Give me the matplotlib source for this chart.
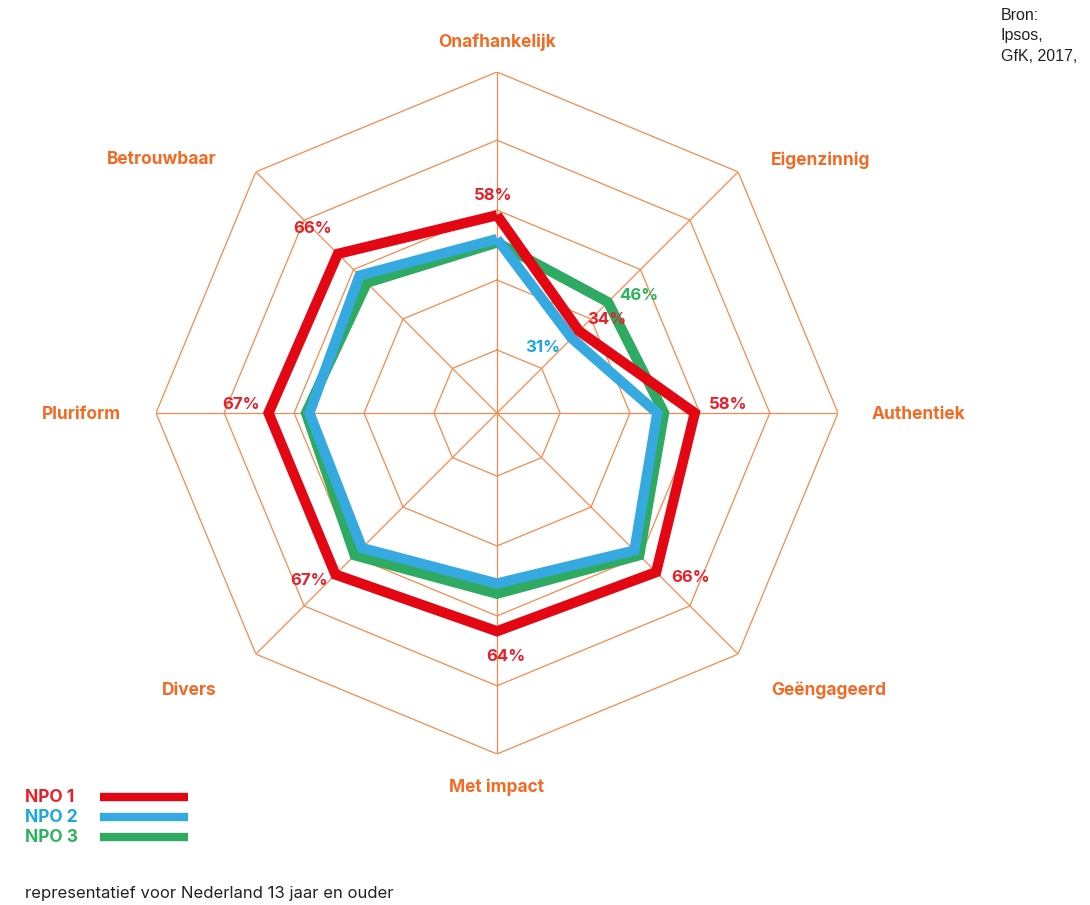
import numpy as np
import matplotlib
matplotlib.use('Agg')
import matplotlib.pyplot as plt
from matplotlib.lines import Line2D

plt.rcParams['font.family'] = ['Inter', 'DejaVu Sans']

categories = ['Onafhankelijk', 'Eigenzinnig', 'Authentiek', 'Geëngageerd',
              'Met impact', 'Divers', 'Pluriform', 'Betrouwbaar']
npo1 = [58, 34, 58, 66, 64, 67, 67, 66]
npo2 = [51, 31, 47, 57, 50, 56, 55, 57]
npo3 = [50, 46, 49, 59, 53, 59, 56, 54]
series_names = ['NPO 1', 'NPO 2', 'NPO 3']
ring_levels = [18.5, 39, 59.5, 80, 100]

# labels shown on the chart: (series index, category index)
shown_labels = [(0, 0), (0, 1), (0, 2), (0, 3), (0, 4), (0, 5), (0, 6), (0, 7),
                (1, 1), (2, 1)]

W, H = 1090, 905
RED = '#e30613'
BLUE = '#36a9e0'
GREEN = '#2eaa62'
ORANGE = '#f26a24'
GRID = '#f58a4e'
LABEL_COLORS = ['#e8202a', '#19a8e0', '#2db35d']


def fx(px):
    return px / W


def fy(py):
    return 1 - py / H


fig = plt.figure(figsize=(W / 100, H / 100), dpi=100)
cx, cy, R = 497, 413, 341
ax = fig.add_axes([fx(cx - R), fy(cy + R), 2 * R / W, 2 * R / H], projection='polar')
ax.set_theta_offset(np.pi / 2)
ax.set_theta_direction(-1)
ax.set_ylim(0, 100)
ax.axis('off')

n = len(categories)
theta = np.linspace(0, 2 * np.pi, n, endpoint=False)
theta_c = np.append(theta, theta[0])

# octagonal grid
for lv in ring_levels:
    ax.plot(theta_c, [lv] * (n + 1), color=GRID, lw=0.9, zorder=1)
for t in theta:
    ax.plot([t, t], [0, 100], color=GRID, lw=0.9, zorder=1)

series = [npo1, npo2, npo3]
colors = [RED, BLUE, GREEN]
zorders = [5, 4, 3]
for vals, col, z, name in zip(series, colors, zorders, series_names):
    v = np.append(vals, vals[0])
    ax.plot(theta_c, v, color=col, lw=7.4, solid_joinstyle='miter',
            solid_capstyle='butt', zorder=z, label=name)

# value labels, offsets in points
offsets = {(0, 0): (-3, 14), (0, 1): (20, 8), (0, 2): (24, 6), (0, 3): (25, -4),
           (0, 4): (6, -18), (0, 5): (-19, -4), (0, 6): (-20, 6), (0, 7): (-18, 18),
           (1, 1): (-21, -7), (2, 1): (22, 5)}
for si, ci in shown_labels:
    ax.annotate(f'{series[si][ci]}%', xy=(theta[ci], series[si][ci]),
                xytext=offsets[(si, ci)], textcoords='offset points',
                ha='center', va='center', fontsize=12, fontweight='bold',
                color=LABEL_COLORS[si], zorder=10)

# category labels
cat_pos = [(497, 42), (821, 160), (918, 414), (829, 690),
           (497, 787), (189, 690), (81, 414), (162, 160)]
for name, (px, py) in zip(categories, cat_pos):
    fig.text(fx(px), fy(py), name, ha='center', va='center', fontsize=12.5,
             fontweight='bold', color=ORANGE)

# legend: name then a bar
for i, (name, col, tcol) in enumerate(zip(series_names, colors, LABEL_COLORS)):
    yy = fy(797 + 20 * i)
    fig.text(fx(25), yy, name, ha='left', va='center', fontsize=12.5,
             fontweight='bold', color=tcol)
    fig.add_artist(Line2D([fx(100), fx(188)], [yy, yy], color=col, lw=6,
                          solid_capstyle='butt', transform=fig.transFigure))

fig.text(fx(1001), fy(8), 'Bron:\nIpsos,\nGfK, 2017,', ha='left', va='top',
         fontsize=11.5, color='#222222', linespacing=1.45,
         family=['Liberation Sans', 'DejaVu Sans'])
fig.text(fx(25), fy(893), 'representatief voor Nederland 13 jaar en ouder',
         ha='left', va='center', fontsize=12, color='#222222')

fig.savefig('out.png', dpi=100)
